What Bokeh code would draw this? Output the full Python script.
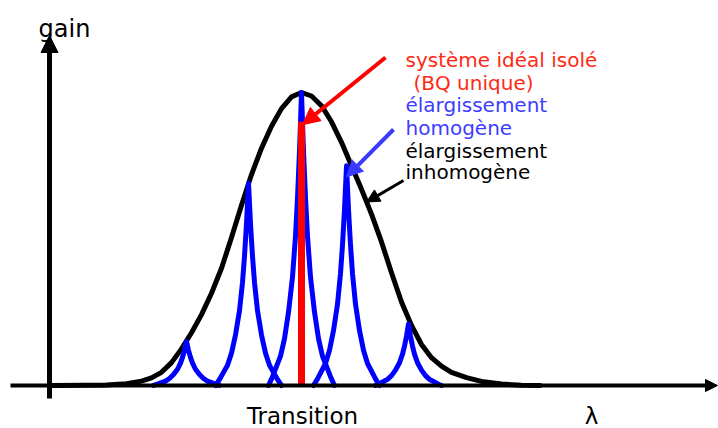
from bokeh.plotting import figure
from bokeh.models import Range1d, Arrow, NormalHead
from bokeh.core.properties import value
from bokeh.embed import file_html
from bokeh.resources import INLINE

# ---- data (lambda in arbitrary units, gain normalised to the envelope peak) ----
env_lambda = [2, 37, 57, 77, 92, 102, 112, 122, 132, 142, 152, 162, 172, 182, 192, 202,
              212, 222, 232, 242, 252, 262, 272, 282, 292, 302, 312, 322, 332, 342, 352,
              362, 372, 382, 392, 402, 417, 432, 452, 472, 492]
env_gain = [0.0, 0.0005, 0.002, 0.006, 0.015, 0.026, 0.045, 0.078, 0.125, 0.18, 0.242,
            0.315, 0.40, 0.505, 0.615, 0.72, 0.81, 0.885, 0.945, 0.985, 1.0, 0.988, 0.955,
            0.90, 0.83, 0.75, 0.67, 0.585, 0.49, 0.385, 0.285, 0.205, 0.14, 0.095, 0.066,
            0.045, 0.027, 0.014, 0.005, 0.001, 0.0]

# homogeneous lines: centres, heights and the common line profile
peak_centres = [137, 199, 252, 297, 359]
peak_heights = [0.15, 0.69, 1.0, 0.75, 0.21]
profile_offsets = [-33, -29, -25, -21, -17, -13, -9, -6, -4, -2, 0,
                   2, 4, 6, 9, 13, 17, 21, 25, 29, 33]
profile_values = [0.0, 0.03, 0.065, 0.10, 0.16, 0.25, 0.37, 0.51, 0.64, 0.80, 1.0,
                  0.80, 0.64, 0.51, 0.37, 0.25, 0.16, 0.10, 0.065, 0.03, 0.0]

# ideal isolated system (single QD): a delta line
ideal_lambda = [252]
ideal_gain = [0.90]

labels = ["système idéal isolé", "(BQ unique)", "élargissement", "homogène",
          "élargissement", "inhomogène"]
label_colors = ["#ff2a14", "#ff2a14", "#3d3dff", "#3d3dff", "#000000", "#000000"]

# ---- figure ----
p = figure(width=718, height=428, output_backend="svg", toolbar_location=None,
           x_range=Range1d(-49, 669), y_range=Range1d(-0.14676, 1.31399),
           x_axis_type=None, y_axis_type=None, min_border=0)
p.grid.visible = False
p.outline_line_color = None
p.background_fill_color = "white"
p.border_fill_color = "white"

# drawn axes with arrow heads
p.add_layout(Arrow(end=NormalHead(size=12, fill_color="black", line_color="black"),
                   x_start=-39, y_start=0, x_end=668, y_end=0,
                   line_color="black", line_width=4))
p.add_layout(Arrow(end=NormalHead(size=17, fill_color="black", line_color="black"),
                   x_start=0, y_start=-0.0444, x_end=0, y_end=1.1945,
                   line_color="black", line_width=5))

# inhomogeneous envelope
p.line(env_lambda, env_gain, line_color="black", line_width=5, line_join="round")

# homogeneous lines
xs = [[c + o for o in profile_offsets] for c in peak_centres]
ys = [[h * v for v in profile_values] for h in peak_heights]
p.multi_line(xs, ys, line_color="#0000ff", line_width=5, line_join="round", line_cap="round")

# ideal line
p.segment(x0=ideal_lambda, y0=[-0.004] * len(ideal_lambda), x1=ideal_lambda, y1=ideal_gain,
          line_color="#ff0000", line_width=7)

# annotation arrows
p.add_layout(Arrow(end=NormalHead(size=17, fill_color="#ff0000", line_color="#ff0000"),
                   x_start=336, y_start=1.1195, x_end=253, y_end=0.89,
                   line_color="#ff0000", line_width=4))
p.add_layout(Arrow(end=NormalHead(size=16, fill_color="#3a3aff", line_color="#3a3aff"),
                   x_start=344, y_start=0.8737, x_end=297, y_end=0.712,
                   line_color="#3a3aff", line_width=4))
p.add_layout(Arrow(end=NormalHead(size=13, fill_color="black", line_color="black"),
                   x_start=354, y_start=0.6997, x_end=317, y_end=0.626,
                   line_color="black", line_width=3))

# right-hand text block
lab_x = [356, 364, 356, 356, 356, 356]
lab_y = [1.1116, 1.0317, 0.958, 0.8795, 0.802, 0.728]
p.text(x=lab_x, y=lab_y, text=labels, text_color=label_colors,
       text_font=value("DejaVu Sans"), text_font_size=value("20px"),
       text_align="left", text_baseline="alphabetic")

# axis titles
p.text(x=[15], y=[1.2184], text=["gain"], text_font=value("DejaVu Sans"),
       text_font_size=value("24px"), text_align="center", text_baseline="alphabetic",
       text_color="black")
p.text(x=[253], y=[-0.1024], text=["Transition"], text_font=value("DejaVu Sans"),
       text_font_size=value("23px"), text_align="center", text_baseline="alphabetic",
       text_color="black")
p.text(x=[542], y=[-0.1058], text=["λ"], text_font=value("DejaVu Sans"),
       text_font_size=value("23px"), text_align="center", text_baseline="alphabetic",
       text_color="black")

open("out.html", "w").write(file_html(p, INLINE))
